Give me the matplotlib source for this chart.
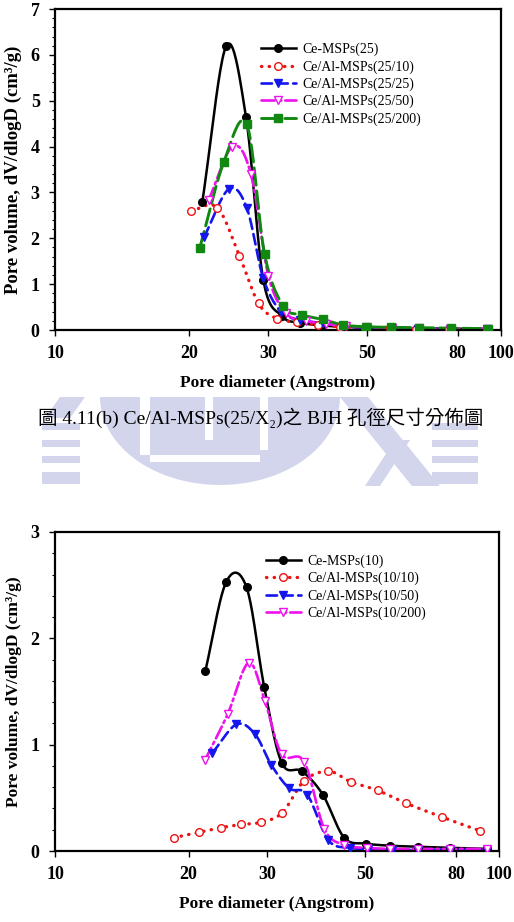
import numpy as np
import matplotlib
matplotlib.use("Agg")
import matplotlib.pyplot as plt
from matplotlib.lines import Line2D
from matplotlib.patches import Polygon
from matplotlib.ticker import MultipleLocator, NullLocator

plt.rcParams['font.family'] = ['Liberation Serif', 'DejaVu Serif', 'Noto Sans CJK TC']

# ---- data: upper chart, Ce/Al-MSPs(25/X2) ----
top_labels = ["Ce-MSPs(25)", "Ce/Al-MSPs(25/10)", "Ce/Al-MSPs(25/25)",
              "Ce/Al-MSPs(25/50)", "Ce/Al-MSPs(25/200)"]
top_x = [
    [21.4, 24.2, 26.8, 29.3, 32.3, 35.5, 39.6, 44.2, 49.8, 56.6, 65.5, 77.1, 93.3],
    [20.2, 23.1, 25.9, 28.6, 31.4, 34.8, 38.8, 43.5, 49.6, 56.3, 64.6, 76.5, 93.2],
    [21.6, 24.5, 26.9, 29.3, 32.1, 35.4, 39.8, 44.3, 50.0, 57.0, 65.0, 77.0, 93.0],
    [22.1, 25.0, 27.5, 30.1, 33.0, 36.6, 40.6, 44.9, 50.0, 57.0, 65.5, 77.0, 93.3],
    [21.1, 23.9, 26.9, 29.5, 32.5, 35.8, 39.8, 44.3, 49.8, 56.6, 65.5, 77.1, 93.3],
]
top_y = [
    [2.80, 6.19, 4.65, 1.10, 0.30, 0.16, 0.10, 0.07, 0.05, 0.04, 0.03, 0.03, 0.02],
    [2.60, 2.67, 1.62, 0.58, 0.25, 0.17, 0.11, 0.07, 0.05, 0.04, 0.03, 0.02, 0.02],
    [2.03, 3.07, 2.67, 1.13, 0.40, 0.22, 0.15, 0.08, 0.05, 0.04, 0.03, 0.03, 0.02],
    [2.83, 4.00, 3.40, 1.18, 0.36, 0.20, 0.13, 0.09, 0.06, 0.05, 0.04, 0.03, 0.03],
    [1.78, 3.66, 4.49, 1.66, 0.52, 0.33, 0.23, 0.11, 0.07, 0.06, 0.05, 0.04, 0.03],
]

# ---- data: lower chart, Ce/Al-MSPs(10/X2) ----
bot_labels = ["Ce-MSPs(10)", "Ce/Al-MSPs(10/10)", "Ce/Al-MSPs(10/50)", "Ce/Al-MSPs(10/200)"]
bot_x = [
    [21.8, 24.3, 27.0, 29.6, 32.4, 36.0, 40.1, 44.8, 50.2, 56.8, 65.8, 77.5, 94.1],
    [18.5, 21.1, 23.7, 26.3, 29.1, 32.5, 36.4, 41.3, 46.4, 53.3, 61.7, 74.3, 90.6],
    [22.6, 25.6, 28.2, 30.7, 33.7, 37.0, 41.3, 46.2, 50.8, 57.5, 65.8, 77.5, 94.1],
    [21.8, 24.5, 27.3, 29.7, 32.4, 36.4, 40.4, 44.8, 50.4, 56.8, 65.8, 77.5, 94.1],
]
bot_y = [
    [1.69, 2.53, 2.48, 1.54, 0.83, 0.75, 0.53, 0.125, 0.07, 0.05, 0.04, 0.03, 0.02],
    [0.125, 0.175, 0.22, 0.25, 0.27, 0.36, 0.66, 0.75, 0.65, 0.57, 0.45, 0.32, 0.19],
    [0.92, 1.19, 1.10, 0.81, 0.59, 0.53, 0.10, 0.03, 0.02, 0.01, 0.01, 0.01, 0.01],
    [0.86, 1.29, 1.77, 1.41, 0.91, 0.84, 0.21, 0.056, 0.03, 0.02, 0.02, 0.02, 0.02],
]

x_ticks = [10, 20, 30, 50, 80, 100]

# ---- styles ----
styles = {
    "black":   dict(color="black", ls="-", marker="o", mfc="black", lw=1.8),
    "red":     dict(color="#ee1111", ls=(0, (0.1, 2.2)), marker="o", mfc="white", lw=2.4),
    "blue":    dict(color="#1515ee", ls=(0, (4, 2)), marker="v", mfc="#1515ee", lw=1.9),
    "magenta": dict(color="#ee11ee", ls=(0, (5, 1.5, 1, 1.5)), marker="v", mfc="white", lw=1.9),
    "green":   dict(color="#118811", ls=(0, (6, 2)), marker="s", mfc="#118811", lw=2.1),
}
top_styles = ["black", "red", "blue", "magenta", "green"]
bot_styles = ["black", "red", "blue", "magenta"]


def smooth(x, y, n=24):
    # Catmull-Rom curve through the points, in log10(x) space
    u = np.log10(np.asarray(x, float))
    v = np.asarray(y, float)
    pu = np.concatenate([[2 * u[0] - u[1]], u, [2 * u[-1] - u[-2]]])
    pv = np.concatenate([[2 * v[0] - v[1]], v, [2 * v[-1] - v[-2]]])
    t = np.linspace(0, 1, n)
    h00 = 2 * t**3 - 3 * t**2 + 1
    h10 = t**3 - 2 * t**2 + t
    h01 = -2 * t**3 + 3 * t**2
    h11 = t**3 - t**2
    su, sv = [], []
    for i in range(1, len(u)):
        mu0 = (pu[i + 1] - pu[i - 1]) / 2
        mu1 = (pu[i + 2] - pu[i]) / 2
        mv0 = (pv[i + 1] - pv[i - 1]) / 2
        mv1 = (pv[i + 2] - pv[i]) / 2
        su.append(h00 * pu[i] + h10 * mu0 + h01 * pu[i + 1] + h11 * mu1)
        sv.append(h00 * pv[i] + h10 * mv0 + h01 * pv[i + 1] + h11 * mv1)
    return 10 ** np.concatenate(su), np.concatenate(sv)


def draw_panel(ax, xs, ys, labels, keys, ymax, legend_anchor, ylabel_size):
    handles = []
    for x, y, lab, k in zip(xs, ys, labels, keys):
        s = styles[k]
        sx, sy = smooth(x, y)
        ax.plot(sx, sy, color=s["color"], ls=s["ls"], lw=s["lw"],
                dash_capstyle="round", zorder=2)
        ax.plot(x, y, ls="none", marker=s["marker"], ms=5.5, mfc=s["mfc"],
                mec=s["color"], mew=1.0, zorder=3)
        handles.append(Line2D([], [], color=s["color"], ls=s["ls"], lw=s["lw"],
                              dash_capstyle="round", marker=s["marker"], ms=5.5,
                              mfc=s["mfc"], mec=s["color"], mew=1.0, label=lab))
    ax.set_xscale("log")
    ax.set_xlim(10, 100)
    ax.set_ylim(0, ymax)
    ax.set_xticks(x_ticks)
    ax.set_xticklabels([str(t) for t in x_ticks])
    ax.xaxis.set_minor_locator(NullLocator())
    ax.yaxis.set_major_locator(MultipleLocator(1))
    ax.yaxis.set_minor_locator(MultipleLocator(0.2))
    ax.tick_params(which="major", direction="out", length=4, width=1,
                   labelsize=13)
    ax.tick_params(axis="x", which="major", pad=7)
    ax.tick_params(axis="y", which="major", pad=7)
    ax.tick_params(which="minor", direction="out", length=2.5, width=0.8)
    for lab in ax.get_xticklabels() + ax.get_yticklabels():
        lab.set_fontweight("bold")
    for sp in ax.spines.values():
        sp.set_linewidth(1.6)
    ax.set_xlabel("Pore diameter (Angstrom)", fontsize=12.5, fontweight="bold",
                  labelpad=9)
    ax.set_ylabel("Pore volume, dV/dlogD (cm\u00b3/g)", fontsize=ylabel_size,
                  fontweight="bold", labelpad=6)
    ax.legend(handles=handles, loc="upper left", bbox_to_anchor=legend_anchor,
              frameon=False, fontsize=10, handlelength=2.5, handletextpad=0.5,
              labelspacing=0.28, borderpad=0, borderaxespad=0)
    ax.set_facecolor("none")


fig = plt.figure(figsize=(5.14, 9.22), dpi=100)

# faint watermark logo behind the caption
W, H = 514.0, 922.0
wm = "#d2d5ec"


def px(pts):
    return [(x / W, 1 - y / H) for x, y in pts]


def wm_poly(pts, color=wm):
    fig.patches.append(Polygon(px(pts), closed=True, fc=color, ec="none",
                               transform=fig.transFigure, zorder=0))


wm_poly([(100 + 240 * 0.5 * (1 - np.cos(a)), 397 + 88 * np.sin(a))
         for a in np.linspace(0, np.pi, 40)])
for y0, y1 in [(423, 430), (440, 447), (456, 463), (472, 484)]:
    wm_poly([(42, y0), (80, y0), (80, y1), (42, y1)])
    wm_poly([(432, y0), (478, y0), (478, y1), (432, y1)])
wm_poly([(60, 397), (85, 397), (70, 418), (45, 418)])
wm_poly([(340, 397), (368, 397), (440, 486), (412, 486)])
wm_poly([(395, 440), (410, 440), (380, 486), (365, 486)])
# white cut-outs inside the bowl
for x0, x1, y0, y1 in [(140, 150, 397, 455), (205, 213, 397, 440),
                       (260, 268, 397, 450), (150, 260, 455, 462)]:
    wm_poly([(x0, y0), (x1, y0), (x1, y1), (x0, y1)], color="white")

ax1 = fig.add_axes([55 / W, 1 - 330 / H, 446 / W, 321 / H])
draw_panel(ax1, top_x, top_y, top_labels, top_styles, 7, (0.462, 0.895), 13.5)

ax2 = fig.add_axes([55 / W, 1 - 851 / H, 444 / W, 319 / H])
draw_panel(ax2, bot_x, bot_y, bot_labels, bot_styles, 3, (0.475, 0.93), 12.5)

fig.text(261 / W, 1 - 418 / H,
         "圖 4.11(b) Ce/Al-MSPs(25/X\u2082)之 BJH 孔徑尺寸分佈圖",
         ha="center", va="center", fontsize=14)

fig.savefig("out.png", dpi=100)
